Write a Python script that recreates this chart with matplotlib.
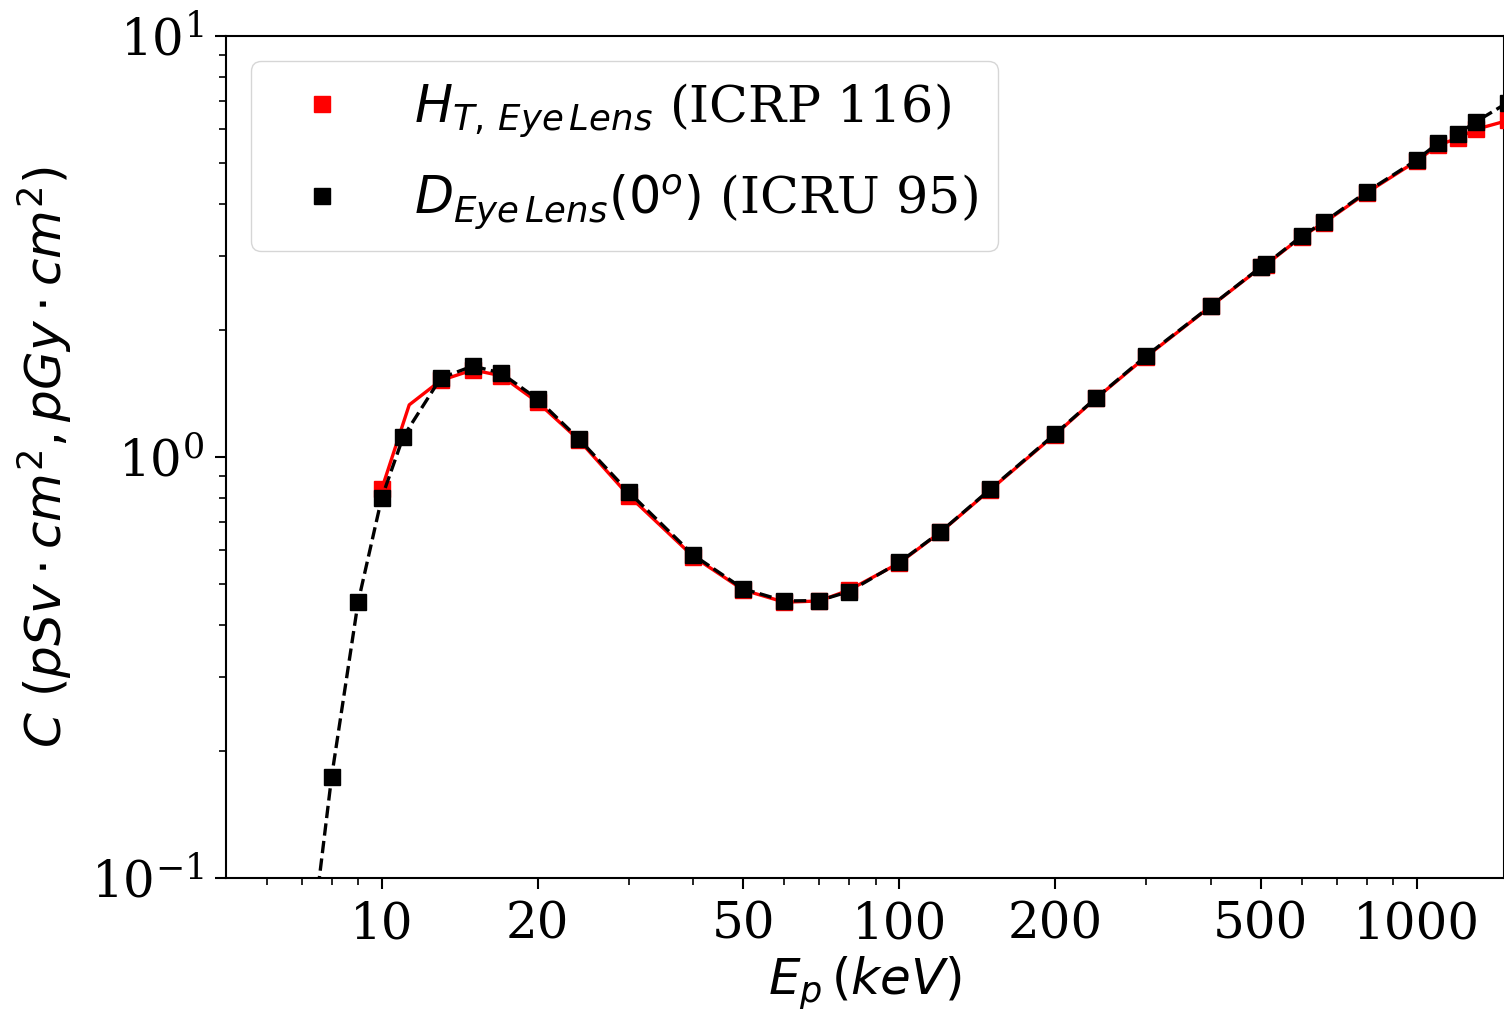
import matplotlib
matplotlib.use("Agg")
import matplotlib.pyplot as plt
from matplotlib.ticker import FixedLocator, FuncFormatter, LogLocator, NullFormatter

plt.rcParams["font.family"] = "serif"
plt.rcParams["font.serif"] = ["DejaVu Serif"]
plt.rcParams["mathtext.fontset"] = "dejavusans"

# D_EyeLens(0°), ICRU 95 (black)
icru_energy = [7, 8, 9, 10, 11, 13, 15, 17, 20, 24, 30, 40, 50, 60, 70, 80,
               100, 120, 150, 200, 240, 300, 400, 500, 511, 600, 662, 800,
               1000, 1100, 1200, 1300, 1500]
icru_coef = [0.045, 0.174, 0.452, 0.80, 1.116, 1.54, 1.645, 1.583, 1.373, 1.106,
             0.826, 0.585, 0.486, 0.455, 0.456, 0.479, 0.562, 0.663, 0.839,
             1.134, 1.381, 1.738, 2.284, 2.827, 2.87, 3.35, 3.616, 4.262,
             5.077, 5.571, 5.85, 6.25, 6.95]

# H_T,EyeLens, ICRP 116 (red)
icrp_energy = [10, 11.3, 13, 15, 17, 20, 24, 30, 40, 50, 60, 70, 80, 100, 120,
               150, 200, 240, 300, 400, 500, 511, 600, 662, 800, 1000, 1100,
               1200, 1300, 1500]
icrp_coef = [0.84, 1.33, 1.52, 1.61, 1.56, 1.35, 1.10, 0.81, 0.58, 0.483, 0.452,
             0.455, 0.483, 0.56, 0.662, 0.836, 1.13, 1.378, 1.73, 2.28, 2.82,
             2.86, 3.34, 3.60, 4.24, 5.05, 5.50, 5.72, 6.00, 6.30]
icrp_marked = [i for i in range(len(icrp_energy)) if i != 1]

x_ticks = [10, 20, 50, 100, 200, 500, 1000]

fig = plt.figure(figsize=(15.04, 10.10), dpi=100)
ax = fig.add_axes([226 / 1504, 132 / 1010, 1 - 226 / 1504, 842 / 1010])

ax.plot(icrp_energy, icrp_coef, "-", color="red", lw=2.4, zorder=2)
ax.plot(icrp_energy, icrp_coef, "s", color="red", ms=12, markevery=icrp_marked,
        label=r"$H_{T,\,Eye\,Lens}$ (ICRP 116)", zorder=3)
ax.plot(icru_energy, icru_coef, "--", color="black", lw=2.4, zorder=4)
ax.plot(icru_energy, icru_coef, "s", color="black", ms=12,
        label=r"$D_{Eye\,Lens}(0^o)$ (ICRU 95)", zorder=5)

ax.set_xscale("log")
ax.set_yscale("log")
ax.set_xlim(5, 1475)
ax.set_ylim(0.1, 10)

ax.xaxis.set_major_locator(FixedLocator(x_ticks))
ax.xaxis.set_major_formatter(FuncFormatter(lambda v, p: f"{v:g}"))
ax.xaxis.set_minor_locator(LogLocator(base=10, subs=(3, 4, 6, 7, 8, 9), numticks=20))
ax.xaxis.set_minor_formatter(NullFormatter())

ax.tick_params(which="major", length=8, width=1.5, labelsize=36, pad=8)
ax.tick_params(which="minor", length=5, width=1.2)
for s in ax.spines.values():
    s.set_linewidth(1.5)

ax.set_xlabel(r"$E_p\,(keV)$", fontsize=36, labelpad=4)
ax.set_ylabel(r"$C\ (pSv \cdot cm^2, pGy \cdot cm^2)$", fontsize=36, labelpad=12)

ax.legend(loc="upper left", fontsize=36.5, handletextpad=0.8, borderaxespad=0.5,
          labelspacing=0.65, borderpad=0.4)

fig.savefig("out.png", dpi=100)
